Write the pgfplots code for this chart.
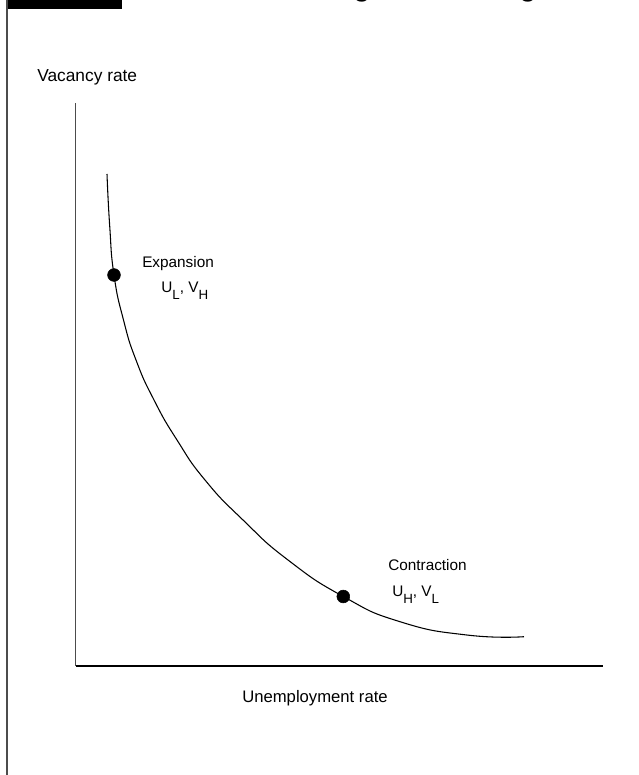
\documentclass[border=0pt]{standalone}
\usepackage{pgfplots}
\pgfplotsset{compat=1.18}
\usepackage{fontspec}
\setmainfont{Liberation Sans}
\newcommand{\sub}[1]{\raisebox{-0.75ex}{\fontsize{10}{11}\selectfont #1}}
\begin{document}
\begin{tikzpicture}[x=0.75pt,y=0.75pt]
\useasboundingbox (0,0) rectangle (639,775);
\fill[black] (7,766) rectangle (122,780);
\draw[line width=1.1pt, gray!60!black] (7,-5) -- (7,780);
\node[anchor=base, font=\bfseries\fontsize{20}{24}\selectfont, inner sep=0] at (362,778) {g};
\node[anchor=base, font=\bfseries\fontsize{20}{24}\selectfont, inner sep=0] at (528,778) {g};
\begin{axis}[
  at={(75.7,109)}, anchor=south west,
  x=0.75pt, y=0.75pt,
  xmin=0, xmax=527, ymin=0, ymax=563,
  axis x line=bottom, axis y line=left,
  axis line style={-},
  x axis line style={black, line width=0.8pt},
  y axis line style={gray!60!black, line width=1.1pt},
  ticks=none,
  clip=false,
]
\addplot[black, line width=0.8pt, smooth, tension=0.9] coordinates {
(31.3,492) (34,440) (38.3,391) (47.8,346) (60.3,306) (78.3,266)
(101.3,226) (129.3,186) (167.3,146) (212.3,106) (267.6,69.5)
(324.3,44.3) (391,31) (448.3,29.3)
};
\addplot[only marks, mark=*, mark size=4.8pt, black] coordinates {(38.3,391) (267.6,69.5)};
\end{axis}
\node[anchor=base west, inner sep=0, font=\fontsize{13}{15}\selectfont] at (37,693) {Vacancy rate};
\node[anchor=base, inner sep=0, font=\fontsize{12.5}{15}\selectfont] at (315,72) {Unemployment rate};
\node[anchor=base west, inner sep=0, font=\fontsize{11.5}{14}\selectfont] at (142,507) {Expansion};
\node[anchor=base west, inner sep=0, font=\fontsize{11.5}{14}\selectfont] at (161,482) {U\sub{L}, V\sub{H}};
\node[anchor=base west, inner sep=0, font=\fontsize{11.5}{14}\selectfont] at (388,204) {Contraction};
\node[anchor=base west, inner sep=0, font=\fontsize{11.5}{14}\selectfont] at (392,178) {U\sub{H}, V\sub{L}};
\end{tikzpicture}
\end{document}
